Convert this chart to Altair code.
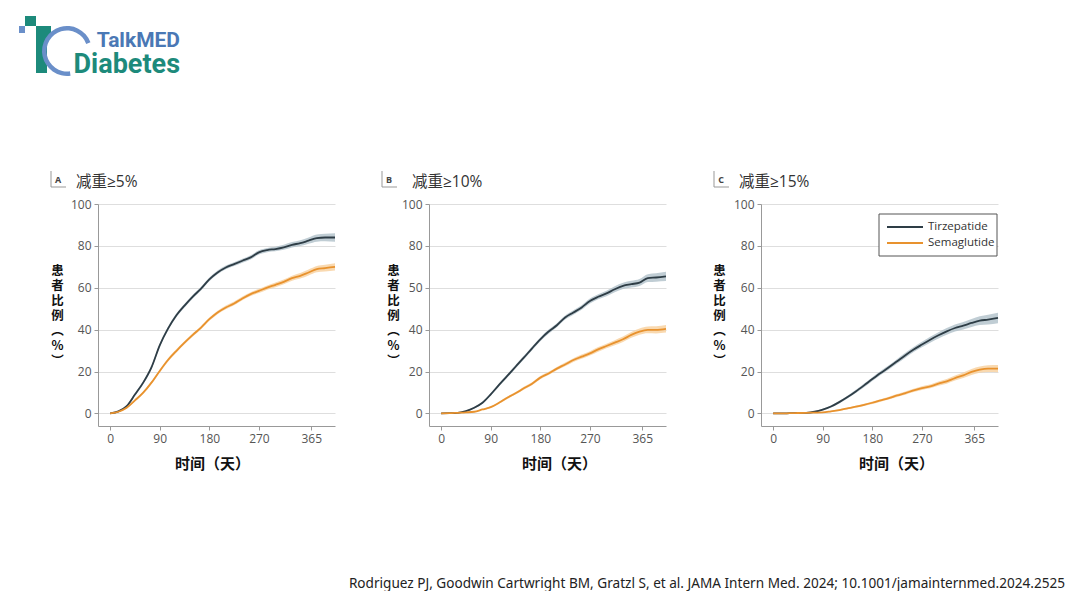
import altair as alt
import pandas as pd

# ---------------- data ----------------
days = [0, 15, 30, 45, 60, 75, 90, 105, 120, 135, 150, 165, 180, 195, 210,
        225, 240, 255, 270, 285, 300, 315, 330, 345, 360, 375, 390, 408]

a_tirz = [0, 1.0, 3.5, 9.0, 14.7, 22.0, 32.5, 40.5, 46.8, 51.5, 55.8, 59.6, 64.0, 67.3,
          69.7, 71.3, 72.9, 74.5, 76.9, 78.0, 78.5, 79.3, 80.5, 81.3, 82.5, 83.7, 84.0, 84.0]
a_sema = [0, 0.8, 2.7, 6.2, 9.9, 14.7, 20.3, 25.5, 29.8, 33.8, 37.5, 41.0, 45.0, 48.2,
          50.6, 52.5, 54.9, 57.0, 58.5, 60.1, 61.4, 62.8, 64.6, 65.7, 67.3, 68.9, 69.4, 70.0]
b_tirz = [0, 0.1, 0.3, 1.1, 2.7, 5.1, 9.1, 13.6, 17.9, 22.3, 26.6, 31.1, 35.4, 39.1,
          42.1, 45.8, 48.2, 50.6, 53.7, 55.7, 57.3, 59.3, 60.9, 61.7, 62.5, 64.6, 64.9, 65.4]
b_sema = [0, 0.1, 0.3, 0.5, 0.8, 1.9, 3.0, 5.1, 7.5, 9.6, 12.0, 14.2, 17.1, 19.1,
          21.4, 23.4, 25.5, 27.1, 28.7, 30.6, 32.2, 33.8, 35.4, 37.5, 39.1, 39.9, 39.9, 40.4]
c_tirz = [0, 0, 0.1, 0.2, 0.3, 0.8, 1.8, 3.3, 5.4, 7.8, 10.5, 13.4, 16.4, 19.3,
          22.0, 24.9, 27.8, 30.5, 32.9, 35.2, 37.3, 39.2, 40.8, 41.9, 43.2, 44.3, 44.8, 45.6]
c_sema = [0, 0, 0.1, 0.2, 0.3, 0.4, 0.5, 1.0, 1.6, 2.4, 3.2, 4.1, 5.1, 6.2,
          7.3, 8.6, 9.7, 11.0, 12.1, 12.9, 14.2, 15.3, 16.9, 18.2, 19.8, 20.9, 21.4, 21.4]

# half-widths of the confidence bands
a_tirz_hw = [0, 0.3, 0.5, 0.7, 0.8, 0.9, 0.9, 0.9, 0.9, 0.9, 0.9, 0.9, 0.9, 0.9,
             0.9, 0.9, 0.9, 1.0, 1.0, 1.0, 1.1, 1.2, 1.3, 1.4, 1.5, 1.7, 1.8, 2.0]
a_sema_hw = [0, 0.3, 0.4, 0.5, 0.6, 0.7, 0.7, 0.8, 0.8, 0.8, 0.8, 0.8, 0.8, 0.8,
             0.9, 0.9, 0.9, 0.9, 1.0, 1.0, 1.1, 1.1, 1.2, 1.3, 1.4, 1.5, 1.6, 1.7]
b_tirz_hw = [0, 0.1, 0.2, 0.3, 0.4, 0.5, 0.6, 0.7, 0.8, 0.8, 0.9, 0.9, 0.9, 1.0,
             1.0, 1.0, 1.1, 1.1, 1.2, 1.2, 1.3, 1.4, 1.5, 1.6, 1.7, 1.9, 2.0, 2.2]
b_sema_hw = [0, 0.1, 0.1, 0.2, 0.2, 0.3, 0.4, 0.5, 0.6, 0.6, 0.7, 0.7, 0.8, 0.8,
             0.8, 0.9, 0.9, 1.0, 1.0, 1.1, 1.1, 1.2, 1.3, 1.4, 1.5, 1.6, 1.7, 1.8]
c_tirz_hw = [0, 0, 0.1, 0.1, 0.2, 0.3, 0.4, 0.5, 0.6, 0.7, 0.8, 0.9, 0.9, 1.0,
             1.0, 1.1, 1.2, 1.2, 1.3, 1.4, 1.5, 1.6, 1.7, 1.8, 1.9, 2.1, 2.3, 2.5]
c_sema_hw = [0, 0, 0, 0.1, 0.1, 0.1, 0.2, 0.3, 0.4, 0.4, 0.5, 0.5, 0.6, 0.6,
             0.7, 0.7, 0.8, 0.8, 0.9, 0.9, 1.0, 1.1, 1.2, 1.3, 1.4, 1.5, 1.6, 1.7]

SERIES = ["Tirzepatide", "Semaglutide"]
LINE_COLORS = ["#2e3d46", "#e8922e"]
BAND_COLORS = ["#b0c1c9", "#f7cf9c"]
PANEL_LETTERS = ["A", "B", "C"]
PANEL_TITLES = ["减重≥5%", "减重≥10%", "减重≥15%"]
X_TICKS = [0, 90, 180, 270, 365]
Y_TICKS = [0, 20, 40, 60, 80, 100]
Y_TITLE = ["患", "者", "比", "例", "︵", "%", "︶"]
X_TITLE = "时间（天）"
FOOTNOTE = ("Rodriguez PJ, Goodwin Cartwright BM, Gratzl S, et al. JAMA Intern Med. 2024; "
            "10.1001/jamainternmed.2024.2525")
LOGO_TOP = "TalkMED"
LOGO_BOTTOM = "Diabetes"

CJK = "Noto Sans CJK SC"
MIX = "Open Sans, DejaVu Sans, Noto Sans CJK SC"
LAT = "Open Sans"


def make_df(tirz, sema, thw, shw):
    rows = []
    for name, vals, hws in ((SERIES[0], tirz, thw), (SERIES[1], sema, shw)):
        for d, v, h in zip(days, vals, hws):
            rows.append({"series": name, "day": d, "value": v,
                         "lo": max(0.0, v - h), "hi": v + h})
    return pd.DataFrame(rows)


def panel(i, tirz, sema, thw, shw, ytx, xtx, ttx, with_legend, label_expr=None):
    df = make_df(tirz, sema, thw, shw)
    base = alt.Chart(df)
    xscale = alt.Scale(domain=[-22, 408], nice=False, zero=False)
    yscale = alt.Scale(domain=[-6, 100], nice=False, zero=False)
    xaxis = alt.Axis(values=X_TICKS, title=X_TITLE, grid=False, titleX=xtx, titleY=37,
                     titleAlign="center", titleBaseline="middle", titleFont=CJK,
                     titleFontSize=15, titleFontWeight="bold", titleColor="#111",
                     labelPadding=3)
    ykw = dict(values=Y_TICKS, grid=True, title=Y_TITLE, titleAngle=0, titleX=ytx,
               titleY=60, titleAlign="center", titleBaseline="top", titleLineHeight=15,
               titleFont=CJK, titleFontSize=12.5, titleFontWeight="bold",
               titleColor="#111", labelPadding=3)
    if label_expr:
        ykw["labelExpr"] = label_expr
    yaxis = alt.Axis(**ykw)
    x = alt.X("day:Q", scale=xscale, axis=xaxis)
    band = base.mark_area(interpolate="monotone", opacity=0.8).encode(
        x=x,
        y=alt.Y("lo:Q", scale=yscale, axis=yaxis),
        y2="hi:Q",
        fill=alt.Fill("series:N", scale=alt.Scale(domain=SERIES, range=BAND_COLORS),
                      legend=None),
    )
    line = base.mark_line(interpolate="monotone", strokeWidth=1.8).encode(
        x=x,
        y=alt.Y("value:Q", scale=yscale, axis=yaxis),
        stroke=alt.Stroke("series:N", scale=alt.Scale(domain=SERIES, range=LINE_COLORS),
                          legend=None),
    )
    lab = pd.DataFrame({"letter": [PANEL_LETTERS[i]], "title": [PANEL_TITLES[i]]})
    dec = alt.Chart(lab)
    layers = [band, line]
    layers.append(dec.mark_text(align="left", baseline="alphabetic", font=MIX,
                                fontSize=15.5, color="#333").encode(
        x=alt.value(ttx), y=alt.value(-17.5), text="title:N"))
    layers.append(dec.mark_text(align="center", baseline="middle", font=LAT, fontSize=9,
                                fontWeight="bold", color="#444").encode(
        x=alt.value(-40), y=alt.value(-24), text="letter:N"))
    layers.append(dec.mark_rule(color="#999", strokeWidth=1).encode(
        x=alt.value(-47), y=alt.value(-33), y2=alt.value(-17)))
    layers.append(dec.mark_rule(color="#999", strokeWidth=1).encode(
        x=alt.value(-47), x2=alt.value(-32), y=alt.value(-17)))
    if with_legend:
        layers.append(dec.mark_rect(fill="white", stroke="#555", strokeWidth=1).encode(
            x=alt.value(118), x2=alt.value(236), y=alt.value(10), y2=alt.value(52)))
        for k, name in enumerate(SERIES):
            layers.append(dec.mark_rule(color=LINE_COLORS[k], strokeWidth=2.2).encode(
                x=alt.value(126), x2=alt.value(162), y=alt.value(23 + 16 * k)))
            layers.append(dec.mark_text(align="left", baseline="middle", font=LAT,
                                        fontSize=11.5, color="#333").encode(
                x=alt.value(167), y=alt.value(23 + 16 * k), text=alt.value(name)))
    return alt.layer(*layers).properties(width=237, height=222)


pA = panel(0, a_tirz, a_sema, a_tirz_hw, a_sema_hw, ytx=-41, xtx=114, ttx=-22,
           with_legend=False)
pB = panel(1, b_tirz, b_sema, b_tirz_hw, b_sema_hw, ytx=-36, xtx=130, ttx=-17,
           with_legend=False, label_expr="datum.value == 60 ? '50' : datum.label")
pC = panel(2, c_tirz, c_sema, c_tirz_hw, c_sema_hw, ytx=-42, xtx=135, ttx=-22,
           with_legend=True)

panels = alt.hconcat(pA, pB, pC, spacing=42)

spacer = alt.Chart(pd.DataFrame({"v": [0]})).mark_point(opacity=0).encode(
    x=alt.value(0), y=alt.value(0)).properties(width=39, height=10)

row2 = alt.hconcat(spacer, panels, spacing=0)

# ---------------- logo ----------------
ld = alt.Chart(pd.DataFrame({"top": [LOGO_TOP], "bottom": [LOGO_BOTTOM]}))
TEAL = "#1d8a7b"
BLUE = "#6a8fc9"
logo = alt.layer(
    ld.mark_rect(color=TEAL).encode(x=alt.value(14), x2=alt.value(25),
                                    y=alt.value(8), y2=alt.value(18)),
    ld.mark_rect(color=BLUE).encode(x=alt.value(8), x2=alt.value(14),
                                    y=alt.value(18), y2=alt.value(25)),
    ld.mark_rect(color=TEAL).encode(x=alt.value(25), x2=alt.value(36),
                                    y=alt.value(18), y2=alt.value(65)),
    ld.mark_rect(color=TEAL).encode(x=alt.value(36), x2=alt.value(40),
                                    y=alt.value(18), y2=alt.value(29)),
    ld.mark_arc(color=BLUE, theta=3.0, theta2=7.5, radius=25, radius2=20.5).encode(
        x=alt.value(56), y=alt.value(43)),
    ld.mark_text(align="right", baseline="alphabetic", font="Roboto", fontSize=21,
                 fontWeight="bold", color="#4a78b5").encode(
        x=alt.value(169), y=alt.value(39), text="top:N"),
    ld.mark_text(align="right", baseline="alphabetic", font="Roboto", fontSize=27,
                 fontWeight="bold", color=TEAL).encode(
        x=alt.value(169), y=alt.value(65), text="bottom:N"),
).properties(width=1060, height=162)

# ---------------- footnote ----------------
foot = alt.Chart(pd.DataFrame({"t": [FOOTNOTE]})).mark_text(
    align="right", baseline="middle", font="Noto Sans", fontSize=13.6, color="#222").encode(
    x=alt.value(1054), y=alt.value(113), text="t:N").properties(width=1060, height=118)

chart = alt.vconcat(logo, row2, foot, spacing=0).properties(padding=0).configure_view(
    stroke=None).configure_axis(
    domainColor="#999", tickColor="#999", gridColor="#dedede", gridWidth=1,
    labelColor="#555", labelFont=LAT, labelFontSize=12, tickSize=4)

chart.save("out.html", embed_options={"renderer": "svg", "actions": False})
